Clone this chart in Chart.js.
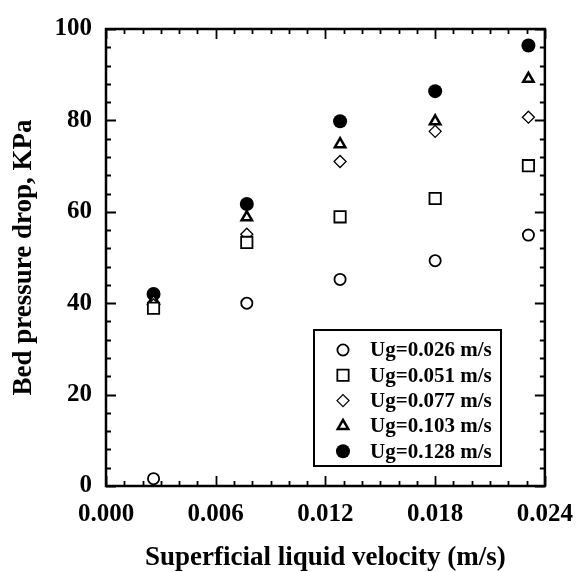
<html>
<head>
<style>
body { margin: 0; background: #fff; }
</style>
<script src="https://cdn.jsdelivr.net/npm/chart.js"></script>
</head>
<body>
<canvas id="myChart" width="587" height="572"></canvas>
<script>
// superficial liquid velocity (m/s)
const liquidVelocity = [0.0026, 0.0077, 0.0128, 0.0180, 0.0231];

// bed pressure drop (KPa) for each gas velocity
const ug026 = [1.6, 40.0, 45.2, 49.3, 54.9];
const ug051 = [38.9, 53.3, 58.9, 62.9, 70.1];
const ug077 = [39.6, 55.1, 71.0, 77.6, 80.7];
const ug103 = [40.6, 58.8, 74.8, 79.8, 89.1];
const ug128 = [42.0, 61.7, 79.8, 86.4, 96.4];

const seriesLabels = ['Ug=0.026 m/s', 'Ug=0.051 m/s', 'Ug=0.077 m/s', 'Ug=0.103 m/s', 'Ug=0.128 m/s'];
const xTickValues = [0, 0.006, 0.012, 0.018, 0.024];
const yTickValues = [0, 20, 40, 60, 80, 100];

const FONT = '"Liberation Serif", "Times New Roman", serif';

function toPoints(ys) {
  return liquidVelocity.map((x, i) => ({x: x, y: ys[i]}));
}

// inward ticks on all four sides + frame
const frameTicks = {
  id: 'frameTicks',
  afterDraw(chart) {
    const ctx = chart.ctx;
    const a = chart.chartArea;
    const xs = chart.scales.x, ys = chart.scales.y;
    ctx.save();
    ctx.strokeStyle = '#000';
    ctx.lineWidth = 1.8;
    for (let i = 0; i <= 24; i++) {
      const px = Math.round(xs.getPixelForValue(i * 0.001)) + 0.5;
      const len = (i % 6 == 0) ? 10 : 5;
      ctx.beginPath();
      ctx.moveTo(px, a.bottom); ctx.lineTo(px, a.bottom - len);
      ctx.moveTo(px, a.top); ctx.lineTo(px, a.top + len);
      ctx.stroke();
    }
    for (let i = 0; i <= 25; i++) {
      const py = Math.round(ys.getPixelForValue(i * 4)) + 0.5;
      const len = (i % 5 == 0) ? 10 : 5;
      ctx.beginPath();
      ctx.moveTo(a.left, py); ctx.lineTo(a.left + len, py);
      ctx.moveTo(a.right, py); ctx.lineTo(a.right - len, py);
      ctx.stroke();
    }
    ctx.lineWidth = 2.5;
    ctx.strokeRect(a.left, a.top, a.right - a.left, a.bottom - a.top);
    ctx.restore();
  }
};

// legend box inside the plot
const boxLegend = {
  id: 'boxLegend',
  afterDraw(chart) {
    const ctx = chart.ctx;
    const a = chart.chartArea;
    const bx = a.left + 208, by = a.top + 301;
    ctx.save();
    ctx.lineWidth = 2;
    ctx.strokeStyle = '#000';
    ctx.fillStyle = '#fff';
    ctx.fillRect(bx, by, 187, 136);
    ctx.strokeRect(bx, by, 187, 136);
    chart.data.datasets.forEach((ds, i) => {
      const y = by + 20 + i * 25.3;
      ctx.fillStyle = ds.backgroundColor;
      ctx.strokeStyle = ds.borderColor;
      ctx.lineWidth = ds.borderWidth;
      Chart.helpers.drawPoint(ctx, {
        pointStyle: ds.pointStyle,
        radius: ds.pointRadius,
        borderWidth: ds.borderWidth,
        rotation: 0
      }, bx + 29, y);
      ctx.fillStyle = '#000';
      ctx.font = 'bold 21px ' + FONT;
      ctx.textAlign = 'left';
      ctx.textBaseline = 'middle';
      ctx.fillText(ds.label, bx + 56, y + 1);
    });
    ctx.restore();
  }
};

const styles = [
  {pointStyle: 'circle', pointRadius: 5.6, borderWidth: 1.8, backgroundColor: '#fff'},
  {pointStyle: 'rect', pointRadius: 8, borderWidth: 1.8, backgroundColor: '#fff'},
  {pointStyle: 'rectRot', pointRadius: 6, borderWidth: 1.3, backgroundColor: '#fff'},
  {pointStyle: 'triangle', pointRadius: 6, borderWidth: 2.5, backgroundColor: '#fff'},
  {pointStyle: 'circle', pointRadius: 7, borderWidth: 0, backgroundColor: '#000'}
];
const series = [ug026, ug051, ug077, ug103, ug128];

const datasets = series.map((ys, i) => Object.assign({
  label: seriesLabels[i],
  data: toPoints(ys),
  borderColor: '#000',
  pointHoverRadius: styles[i].pointRadius,
  clip: false
}, styles[i]));

const myChart = new Chart(document.getElementById('myChart'), {
  type: 'scatter',
  data: {datasets: datasets},
  options: {
    responsive: false,
    devicePixelRatio: 1,
    animation: false,
    layout: {padding: {top: 21, right: 31, left: 0, bottom: 0}},
    plugins: {legend: {display: false}, tooltip: {enabled: false}},
    scales: {
      x: {
        type: 'linear',
        min: 0, max: 0.024,
        grid: {display: false, drawTicks: false},
        border: {display: false},
        afterBuildTicks: (scale) => { scale.ticks = xTickValues.map(v => ({value: v})); },
        afterFit: (scale) => { scale.height = 86; },
        ticks: {
          padding: 14,
          color: '#000',
          font: {family: FONT, size: 25, weight: 'bold'},
          maxRotation: 0,
          callback: (v) => Number(v).toFixed(3)
        },
        title: {
          display: true,
          text: 'Superficial liquid velocity (m/s)',
          color: '#000',
          font: {family: FONT, size: 27, weight: 'bold', lineHeight: 1},
          padding: {top: 0, bottom: 0}
        }
      },
      y: {
        min: 0, max: 100,
        grid: {display: false, drawTicks: false},
        border: {display: false},
        afterBuildTicks: (scale) => { scale.ticks = yTickValues.map(v => ({value: v})); },
        afterFit: (scale) => { scale.width = 106; },
        ticks: {
          padding: 14,
          color: '#000',
          font: {family: FONT, size: 25, weight: 'bold'}
        },
        title: {
          display: true,
          text: 'Bed pressure drop, KPa',
          color: '#000',
          font: {family: FONT, size: 27, weight: 'bold', lineHeight: 1},
          padding: {top: 11, bottom: 0}
        }
      }
    }
  },
  plugins: [frameTicks, boxLegend]
});
</script>
</body>
</html>
